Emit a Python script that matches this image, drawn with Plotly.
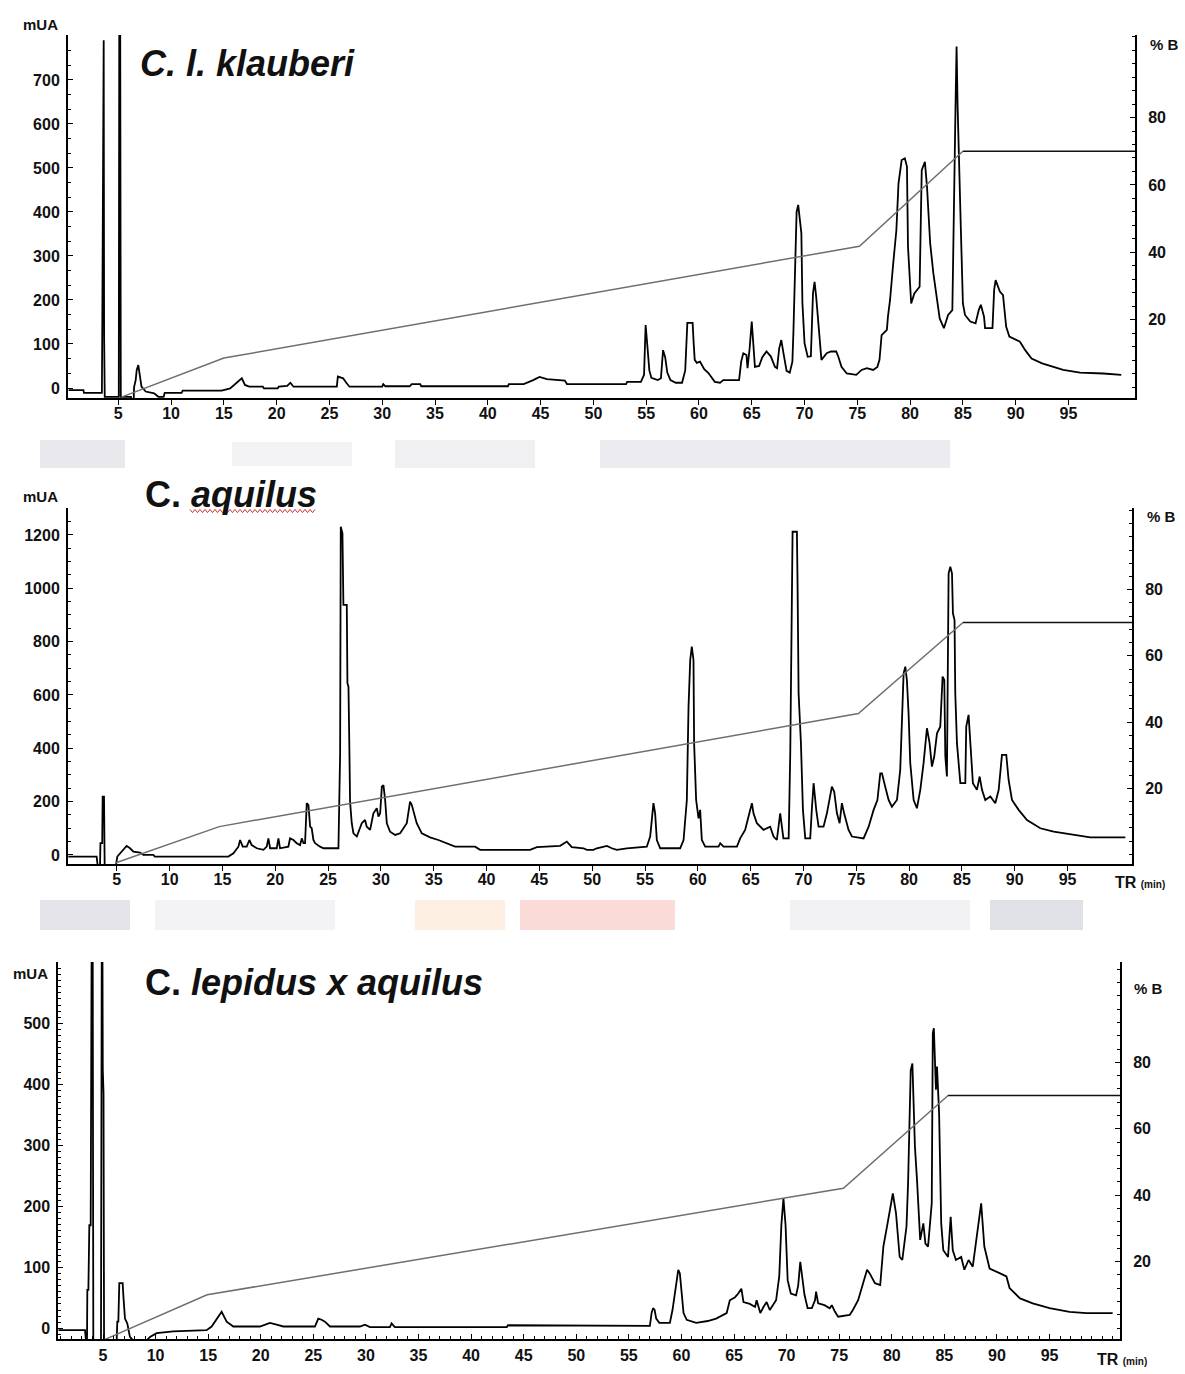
import plotly.graph_objects as go

W, H = 1185, 1374

# ---------------- data (retention time in min, absorbance in mUA, %B) ----------------
p1_time = [
    0.3, 1.7, 1.75, 3.45, 3.5, 3.55, 3.62, 3.66, 3.72, 5.05,
    5.1, 5.18, 5.2, 5.24, 6.2, 6.3, 6.45, 6.5, 6.65, 6.75,
    6.9, 7.05, 7.2, 7.6, 8.4, 8.8, 9.3, 9.4, 11.0, 11.1,
    14.8, 15.6, 16.2, 16.7, 17.0, 17.4, 18.7, 18.8, 20.1, 20.2,
    21.0, 21.3, 21.6, 25.7, 25.8, 26.3, 26.6, 26.9, 30.0, 30.1,
    30.3, 32.6, 32.8, 33.6, 33.7, 41.9, 42.0, 43.4, 44.3, 44.9,
    45.6, 46.5, 47.3, 47.5, 53.1, 53.2, 54.5, 54.8, 54.95, 55.1,
    55.3, 55.5, 56.1, 56.4, 56.6, 56.8, 57.0, 57.3, 57.8, 58.4,
    58.7, 58.9, 59.4, 59.5, 59.6, 59.8, 60.1, 60.5, 60.9, 61.5,
    62.0, 62.3, 63.8, 64.0, 64.2, 64.5, 64.6, 64.8, 65.0, 65.15,
    65.3, 65.7, 66.0, 66.4, 66.8, 67.2, 67.4, 67.6, 67.8, 68.0,
    68.3, 68.6, 68.85, 68.95, 69.1, 69.25, 69.4, 69.55, 69.7, 69.8,
    70.0, 70.3, 70.6, 70.8, 70.95, 71.1, 71.3, 71.6, 72.1, 72.5,
    73.0, 73.2, 73.5, 74.0, 74.9, 75.4, 75.9, 76.5, 76.9, 77.1,
    77.3, 77.8, 77.9, 78.1, 78.4, 78.7, 78.9, 79.2, 79.5, 79.7,
    79.8, 80.0, 80.1, 80.4, 80.9, 81.1, 81.4, 81.6, 81.9, 82.2,
    82.6, 82.8, 83.2, 83.6, 84.0, 84.1, 84.3, 84.4, 84.5, 84.8,
    85.0, 85.2, 85.7, 86.2, 86.5, 86.7, 87.0, 87.1, 87.8, 87.96,
    88.1, 88.5, 88.8, 89.1, 89.4, 90.4, 90.9, 91.5, 92.5, 94.5,
    96.1, 98.3, 100.0,
]
p1_mua = [
    -5, -5, -11, -11, 200, 790, 790, 120, -20, -20,
    900, 900, 320, -20, -20, -35, -35, 2, 18, 41,
    52, 26, 3, -8, -12, -20, -20, -11, -11, -6,
    -6, -1, 11, 22, 7, 3, 3, -1, -1, 3,
    5, 12, 3, 3, 26, 22, 12, 3, 3, 9,
    4, 4, 9, 9, 4, 4, 9, 9, 18, 25,
    20, 18, 17, 9, 9, 14, 14, 30, 143, 100,
    40, 23, 18, 22, 86, 70, 35, 18, 12, 12,
    40, 148, 148, 102, 64, 57, 60, 43, 34, 14,
    12, 18, 18, 60, 79, 75, 45, 90, 151, 100,
    48, 50, 70, 83, 72, 48, 45, 90, 109, 80,
    39, 35, 60, 130, 291, 400, 416, 380, 352, 193,
    102, 71, 72, 215, 241, 208, 147, 64, 79, 83,
    83, 71, 48, 33, 30, 41, 45, 41, 48, 64,
    120, 132, 162, 200, 283, 359, 465, 518, 522, 503,
    321, 230, 192, 215, 230, 495, 514, 457, 329, 261,
    196, 158, 136, 166, 177, 367, 639, 776, 639, 367,
    192, 166, 151, 147, 177, 189, 162, 136, 136, 223,
    245, 219, 211, 139, 117, 105, 86, 67, 56, 41,
    35, 33, 30,
]
p1_grad_time = [5.3, 15.0, 75.2, 85.0, 101.3]
p1_grad_pctb = [-3.0, 8.6, 41.8, 70.0, 70.0]

p2_time = [
    0.41, 3.09, 3.2, 3.41, 3.45, 3.62, 3.66, 3.79, 3.85, 4.92,
    5.05, 5.3, 5.78, 5.93, 6.25, 6.57, 7.2, 7.51, 8.46, 8.6,
    15.56, 16.04, 16.51, 16.67, 16.92, 17.3, 17.55, 17.77, 18.25, 18.88,
    19.19, 19.35, 19.51, 20.14, 20.3, 20.45, 21.24, 21.4, 21.72, 22.03,
    22.35, 22.51, 22.67, 22.82, 22.98, 23.14, 23.3, 23.45, 23.61, 23.77,
    24.24, 24.56, 25.98, 26.07, 26.14, 26.2, 26.36, 26.45, 26.77, 26.83,
    26.93, 27.02, 27.08, 27.24, 27.4, 27.72, 28.19, 28.5, 28.66, 28.98,
    29.29, 29.61, 29.77, 29.93, 30.09, 30.24, 30.4, 30.56, 30.87, 31.35,
    31.82, 32.45, 32.76, 32.92, 33.39, 33.87, 34.65, 35.44, 36.23, 37.02,
    38.92, 39.39, 44.12, 44.76, 46.97, 47.6, 48.07, 49.18, 49.49, 50.12,
    50.44, 51.39, 51.86, 52.33, 53.28, 55.17, 55.49, 55.8, 55.96, 56.12,
    56.44, 58.33, 58.65, 58.96, 59.12, 59.28, 59.43, 59.59, 59.65, 59.84,
    60.07, 60.22, 60.38, 60.7, 61.96, 62.12, 62.43, 63.7, 64.01, 64.48,
    64.8, 65.12, 65.27, 65.59, 66.22, 66.85, 67.17, 67.48, 67.8, 68.1,
    68.6, 68.75, 68.97, 69.38, 69.44, 69.54, 69.76, 69.95, 70.17, 70.64,
    70.8, 70.96, 71.21, 71.43, 71.9, 72.22, 72.69, 72.91, 73.17, 73.42,
    73.64, 73.85, 74.27, 74.59, 75.69, 76.17, 76.64, 77.0, 77.27, 77.43,
    77.74, 78.06, 78.37, 78.85, 79.16, 79.32, 79.48, 79.64, 79.79, 79.95,
    80.11, 80.43, 80.74, 81.06, 81.37, 81.69, 81.94, 82.16, 82.38, 82.64,
    82.95, 83.17, 83.33, 83.43, 83.58, 83.74, 83.9, 84.06, 84.15, 84.3,
    84.37, 84.53, 84.85, 85.32, 85.41, 85.63, 85.89, 86.04, 86.42, 86.68,
    86.9, 87.21, 87.69, 88.16, 88.48, 88.79, 89.2, 89.42, 89.74, 90.37,
    91.16, 92.42, 93.68, 95.58, 97.16, 100.47,
]
p2_mua = [
    -6, -6, -44, -44, 44, 44, 219, 219, -38, -38,
    -6, 6, 31, 34, 25, 12, 9, 0, 0, -6,
    -6, 6, 31, 56, 31, 31, 56, 37, 25, 19,
    31, 62, 25, 25, 62, 25, 31, 62, 56, 44,
    37, 62, 44, 44, 194, 187, 106, 100, 56, 44,
    31, 25, 25, 319, 381, 1231, 1206, 938, 938, 644,
    631, 388, 200, 119, 81, 69, 119, 131, 106, 94,
    156, 175, 144, 156, 256, 262, 206, 119, 87, 75,
    81, 119, 200, 188, 119, 81, 66, 56, 44, 31,
    31, 19, 19, 29, 34, 50, 29, 25, 19, 19,
    25, 34, 25, 19, 25, 31, 69, 194, 156, 56,
    25, 25, 56, 206, 556, 731, 781, 731, 419, 206,
    137, 169, 56, 31, 31, 44, 31, 31, 62, 94,
    144, 194, 156, 119, 94, 106, 69, 56, 156, 62,
    62, 381, 1212, 1212, 1019, 606, 419, 169, 62, 62,
    175, 269, 169, 106, 106, 156, 256, 237, 156, 119,
    194, 156, 94, 69, 62, 106, 169, 206, 306, 306,
    256, 206, 181, 206, 319, 531, 681, 706, 656, 531,
    344, 206, 175, 244, 344, 475, 419, 331, 369, 456,
    481, 669, 656, 369, 294, 1056, 1081, 1056, 906, 881,
    606, 419, 269, 269, 481, 525, 369, 269, 244, 294,
    244, 206, 219, 194, 244, 375, 375, 281, 206, 169,
    131, 100, 87, 75, 66, 66,
]
p2_grad_time = [4.85, 14.7, 75.2, 85.1, 101.1]
p2_grad_pctb = [-2.6, 8.4, 42.6, 70.1, 70.1]

p3_time = [
    0.75, 3.29, 3.38, 3.48, 3.51, 3.61, 3.7, 3.83, 3.92, 4.02,
    4.08, 4.81, 4.88, 4.95, 4.98, 5.05, 5.1, 6.3, 6.36, 6.46,
    6.55, 6.87, 6.93, 7.09, 7.31, 7.56, 7.88, 9.15, 9.47, 10.1,
    11.68, 14.85, 15.33, 15.8, 16.28, 16.76, 17.39, 19.92, 20.24, 20.87,
    21.51, 22.14, 25.15, 25.47, 25.78, 26.1, 26.58, 29.43, 29.91, 30.38,
    32.28, 32.44, 32.75, 43.4, 43.5, 54.8, 57.0, 57.16, 57.3, 57.45,
    57.6, 57.9, 58.9, 59.15, 59.37, 59.5, 59.7, 59.85, 60.0, 60.2,
    60.5, 61.4, 62.5, 63.3, 64.3, 64.6, 65.1, 65.4, 65.7, 65.9,
    66.5, 67.0, 67.15, 67.5, 67.8, 68.1, 68.4, 69.0, 69.3, 69.5,
    69.7, 69.9, 70.1, 70.4, 70.9, 71.1, 71.3, 71.5, 71.7, 72.0,
    72.4, 72.7, 72.8, 73.0, 73.6, 74.1, 74.3, 74.6, 74.9, 76.0,
    76.3, 76.8, 77.3, 77.65, 77.9, 78.4, 78.9, 79.2, 79.6, 80.1,
    80.4, 80.75, 81.0, 81.4, 81.55, 81.8, 81.96, 82.2, 82.4, 82.7,
    83.0, 83.2, 83.45, 83.8, 83.9, 84.0, 84.2, 84.3, 84.5, 84.7,
    84.9, 85.35, 85.6, 85.8, 86.1, 86.6, 86.9, 87.3, 87.7, 88.2,
    88.5, 88.8, 89.3, 90.3, 90.9, 91.2, 92.2, 93.4, 95.0, 96.9,
    98.5, 101.0,
]
p3_mua = [
    -3, -3, -20, -20, 63, 63, 169, 169, 640, 640,
    -20, -20, 620, 620, 424, 386, -20, -20, 11, 11,
    74, 74, 55, 16, 8, -14, -20, -20, -14, -8,
    -5, -3, 3, 16, 27, 11, 3, 3, 5, 9,
    6, 3, 3, 16, 14, 11, 3, 3, 6, 2,
    2, 8, 2, 2, 5, 5, 4, 25, 33, 30,
    16, 9, 9, 30, 57, 79, 96, 90, 57, 25,
    14, 9, 12, 16, 25, 46, 51, 57, 65, 43,
    40, 35, 46, 25, 35, 43, 30, 46, 85, 169,
    213, 169, 79, 57, 54, 70, 109, 80, 55, 33,
    33, 46, 60, 41, 38, 33, 38, 27, 19, 22,
    30, 46, 74, 96, 90, 74, 71, 134, 172, 221,
    189, 117, 112, 167, 238, 423, 434, 298, 243, 145,
    172, 139, 134, 205, 484, 492, 391, 429, 352, 172,
    128, 117, 183, 128, 112, 117, 96, 112, 101, 161,
    205, 134, 98, 90, 85, 66, 49, 41, 33, 27,
    25, 25,
]
p3_grad_time = [5.2, 14.9, 75.4, 85.35, 101.7]
p3_grad_pctb = [-3.4, 10.0, 42.1, 70.0, 70.0]

time_ticks = [5, 10, 15, 20, 25, 30, 35, 40, 45, 50, 55, 60, 65, 70, 75, 80, 85, 90, 95]
p1_mua_ticks = [0, 100, 200, 300, 400, 500, 600, 700]
p2_mua_ticks = [0, 200, 400, 600, 800, 1000, 1200]
p3_mua_ticks = [0, 100, 200, 300, 400, 500]
pctb_ticks = [20, 40, 60, 80]

titles = ["<b><i>C. l. klauberi</i></b>", "<b>C. <i>aquilus</i></b>", "<b>C. <i>lepidus x aquilus</i></b>"]

# ---------------- figure ----------------
FONT = "Liberation Sans, Arial, sans-serif"
tick_font = dict(family=FONT, size=16, color="#111111", weight="bold")

def px(x):
    return x / W

def py(y):
    return 1 - y / H

fig = go.Figure()

panels = [
    ("x", "y", "y2", p1_time, p1_mua, p1_grad_time, p1_grad_pctb),
    ("x2", "y3", "y4", p2_time, p2_mua, p2_grad_time, p2_grad_pctb),
    ("x3", "y5", "y6", p3_time, p3_mua, p3_grad_time, p3_grad_pctb),
]
for xa, ya, yb, t, a, gt, gb in panels:
    fig.add_trace(go.Scatter(x=t, y=a, xaxis=xa, yaxis=ya, mode="lines",
                             line=dict(color="#000000", width=1.8), showlegend=False))
    fig.add_trace(go.Scatter(x=gt[:4], y=gb[:4], xaxis=xa, yaxis=yb, mode="lines",
                             line=dict(color="#6e6e6e", width=1.5), showlegend=False))
    fig.add_trace(go.Scatter(x=gt[3:], y=gb[3:], xaxis=xa, yaxis=yb, mode="lines",
                             line=dict(color="#111111", width=1.6), showlegend=False))


def x_axis(domain, rng, anchor, minor=False, inside=False):
    d = dict(domain=domain, range=rng, anchor=anchor, tickmode="array", tickvals=time_ticks,
             ticks="inside" if inside else "outside", ticklen=5, tickwidth=1.3, tickcolor="black",
             showline=True, linecolor="black", linewidth=2, showgrid=False, zeroline=False,
             tickfont=tick_font, ticklabelstandoff=1 if inside else -5, fixedrange=True)
    if minor:
        d["minor"] = dict(tick0=0, dtick=1, ticks="inside", ticklen=3, tickwidth=1, tickcolor="black", showgrid=False)
    return d


def y_axis(domain, rng, anchor, vals, mdt):
    return dict(domain=domain, range=rng, anchor=anchor, tickmode="array", tickvals=vals,
                ticks="inside", ticklen=5, tickwidth=1.3, tickcolor="black",
                minor=dict(tick0=0, dtick=mdt, ticks="inside", ticklen=3, tickwidth=1, tickcolor="black", showgrid=False),
                showline=True, linecolor="black", linewidth=2, showgrid=False, zeroline=False,
                tickfont=tick_font, ticklabelstandoff=3, fixedrange=True)


def b_axis(over, rng, anchor):
    return dict(overlaying=over, side="right", range=rng, anchor=anchor, tickmode="array", tickvals=pctb_ticks,
                ticks="inside", ticklen=5, tickwidth=1.3, tickcolor="black",
                minor=dict(tick0=0, dtick=4, ticks="inside", ticklen=3, tickwidth=1, tickcolor="black", showgrid=False),
                showline=True, linecolor="black", linewidth=2, showgrid=False, zeroline=False,
                tickfont=tick_font, ticklabelstandoff=8, fixedrange=True)


d1x = [px(68), px(1135)]
d1y = [py(398), py(35)]
d2x = [px(68), px(1132)]
d2y = [py(864), py(508)]
d3x = [px(58.3), px(1120)]
d3y = [py(1339), py(962)]

fig.update_layout(
    width=W, height=H, autosize=False,
    margin=dict(l=0, r=0, t=0, b=0),
    paper_bgcolor="white", plot_bgcolor="rgba(0,0,0,0)",
    showlegend=False,
    font=dict(family=FONT, color="#111111"),
    xaxis=x_axis(d1x, [0.24, 101.3], "y"),
    yaxis=y_axis(d1y, [-22.7, 802], "x", p1_mua_ticks, 100 / 3),
    yaxis2=b_axis("y", [-3.26, 104.5], "x"),
    xaxis2=x_axis(d2x, [0.38, 101.1], "y3"),
    yaxis3=y_axis(d2y, [-34, 1301], "x2", p2_mua_ticks, 50),
    yaxis4=b_axis("y3", [-2.9, 104.7], "x2"),
    xaxis3=x_axis(d3x, [0.75, 101.7], "y5", minor=True, inside=True),
    yaxis5=y_axis(d3y, [-17.5, 600.5], "x3", p3_mua_ticks, 10),
    yaxis6=b_axis("y5", [-3.3, 110.2], "x3"),
)

ann = []
def label(text, x, y, size, xanchor="center"):
    ann.append(dict(text=text, x=px(x), y=py(y), xref="paper", yref="paper", xanchor=xanchor,
                    yanchor="middle", showarrow=False,
                    font=dict(family=FONT, size=size, color="#111111", weight="bold")))

label("mUA", 40, 24, 15)
label("% B", 1164, 44, 15)
label("mUA", 40, 497, 15)
label("% B", 1161, 516, 15)
label("mUA", 30, 973, 15)
label("% B", 1148, 988, 15)
label("TR <span style='font-size:10px'>(min)</span>", 1113, 882, 16, "left")
label("TR <span style='font-size:10px'>(min)</span>", 1095, 1359, 16, "left")
label(titles[0], 138, 63, 36, "left")
label(titles[1], 143, 494, 36, "left")
label(titles[2], 143, 982, 36, "left")
fig.update_layout(annotations=ann)

# faint watermark bands between panels and spell-check underline
shapes = []
bands = [
    (40, 125, 440, 468, "#e8e8ed"), (232, 352, 442, 466, "#f3f3f5"), (395, 535, 440, 468, "#f0f0f3"),
    (600, 950, 440, 468, "#ececf0"),
    (40, 130, 900, 930, "#e4e4ea"), (155, 335, 900, 930, "#f3f3f5"), (415, 505, 900, 930, "#fdf0e3"),
    (520, 675, 900, 930, "#fadbd7"), (790, 970, 900, 930, "#f2f2f4"), (990, 1083, 900, 930, "#e0e0e7"),
]
for x0, x1, y0, y1, c in bands:
    shapes.append(dict(type="rect", xref="paper", yref="paper", x0=px(x0), x1=px(x1), y0=py(y1), y1=py(y0),
                       fillcolor=c, line=dict(width=0), layer="below"))
zig = []
xx = 190
k = 0
while xx <= 316:
    yy = 511 + (1.6 if k % 2 else -1.6)
    zig.append(("M" if k == 0 else "L") + f" {px(xx):.5f},{py(yy):.5f}")
    xx += 2.5
    k += 1
shapes.append(dict(type="path", xref="paper", yref="paper", path=" ".join(zig),
                   line=dict(color="#d03030", width=1)))
fig.update_layout(shapes=shapes)

fig.write_html("out.html")
